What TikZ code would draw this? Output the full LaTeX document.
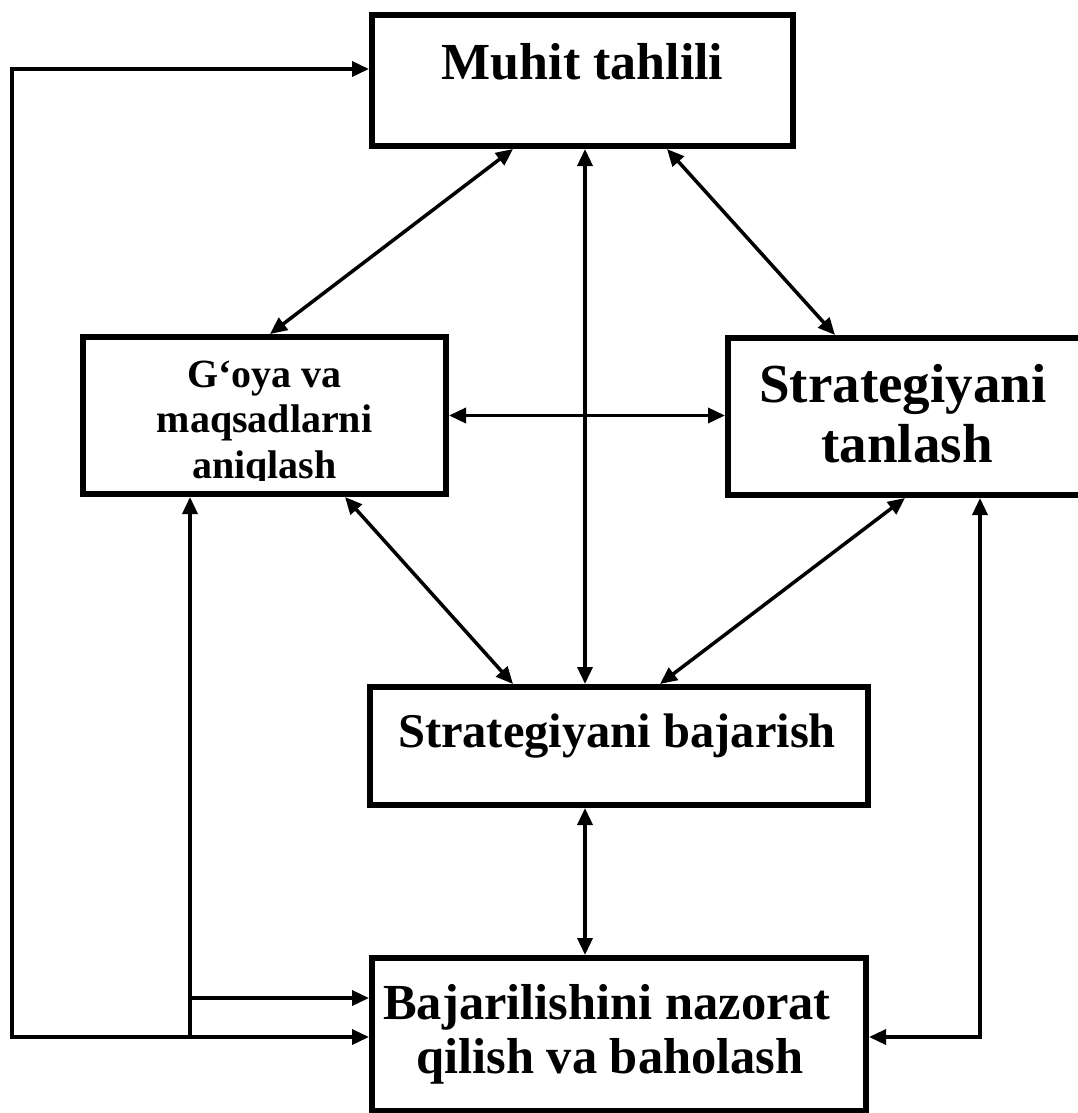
\documentclass[tikz,border=0pt]{standalone}
\usepackage{fontspec}
\setmainfont{Liberation Serif}
\usetikzlibrary{arrows.meta}

\begin{document}
\begin{tikzpicture}[x=1pt, y=-1pt,
  box/.style={draw, line width=6pt, rectangle, inner sep=0pt},
  lbl/.style={anchor=base, inner sep=0pt},
  link/.style={line width=3.5pt, {Triangle[length=17pt,width=15pt]}-{Triangle[length=17pt,width=15pt]}},
  feed/.style={line width=3.5pt, -{Triangle[length=17pt,width=15pt]}},
  fs/.style={font=\fontsize{#1pt}{#1pt}\selectfont\bfseries}]

\clip (0,0) rectangle (1078,1113);
\fill[white] (0,0) rectangle (1078,1113);

% boxes
\node[box, minimum width=421pt, minimum height=131pt] (env)    at (582.5,80.5) {};
\node[box, minimum width=363pt, minimum height=157pt] (goal)   at (264.5,415.5) {};
\node[box, minimum width=382pt, minimum height=157pt] (choose) at (919,416.5) {};
\node[box, minimum width=498pt, minimum height=118pt] (exec)   at (619,746) {};
\node[box, minimum width=494pt, minimum height=153pt] (ctrl)   at (619,1034.5) {};

% labels
\node[lbl, fs=52] (envt) at (582.5,80) {Muhit tahlili};
\begin{scope}
  \clip (83,337) rectangle (446,480);
  \node[lbl, fs=40] (goalt1) at (264.5,387) {G‘oya va};
  \node[lbl, fs=40] (goalt2) at (264.5,432) {maqsadlarni};
  \node[lbl, fs=40] (goalt3) at (264.5,478) {aniqlash};
\end{scope}
\node[lbl, fs=55] (chooset1) at (903,402) {Strategiyani};
\node[lbl, fs=55] (chooset2) at (907,462) {tanlash};
\node[lbl, fs=48.5] (exect) at (617,747) {Strategiyani bajarish};
\node[lbl, fs=50.5] (ctrlt1) at (607,1019) {Bajarilishini nazorat};
\node[lbl, fs=50.5] (ctrlt2) at (610,1073) {qilish va baholash};

% two-way links between the stages
\draw[link] ([xshift=-69.5pt]env.south) -- ([xshift=5.5pt]goal.north);
\draw[link] ([xshift=2.5pt]env.south) -- ([xshift=-34pt]exec.north);
\draw[link] ([xshift=84.5pt]env.south) -- ([xshift=-84pt]choose.north);
\draw[link] (goal.east) -- (goal.east -| choose.west);
\draw[link] ([xshift=80.5pt]goal.south) -- ([xshift=-106pt]exec.north);
\draw[link] ([xshift=-14pt]choose.south) -- ([xshift=41pt]exec.north);
\draw[link] ([xshift=-34pt]exec.south) -- ([xshift=-34pt]ctrl.north);

% feedback loops
\coordinate (lt) at (12,69);
\coordinate (lo) at (12,1037);
\coordinate (li) at (190,1037);
\coordinate (lm) at (190,998);
\coordinate (rc) at (980,1037);

\draw[link, line join=miter] (lt -| env.west) -- (lt) -- (lo) -- (lo -| ctrl.west);
\draw[feed] (li) -- (li |- goal.south);
\draw[feed] (lm) -- (lm -| ctrl.west);
\draw[link, line join=miter] (choose.south -| rc) -- (rc) -- (rc -| ctrl.east);

\end{tikzpicture}
\end{document}
